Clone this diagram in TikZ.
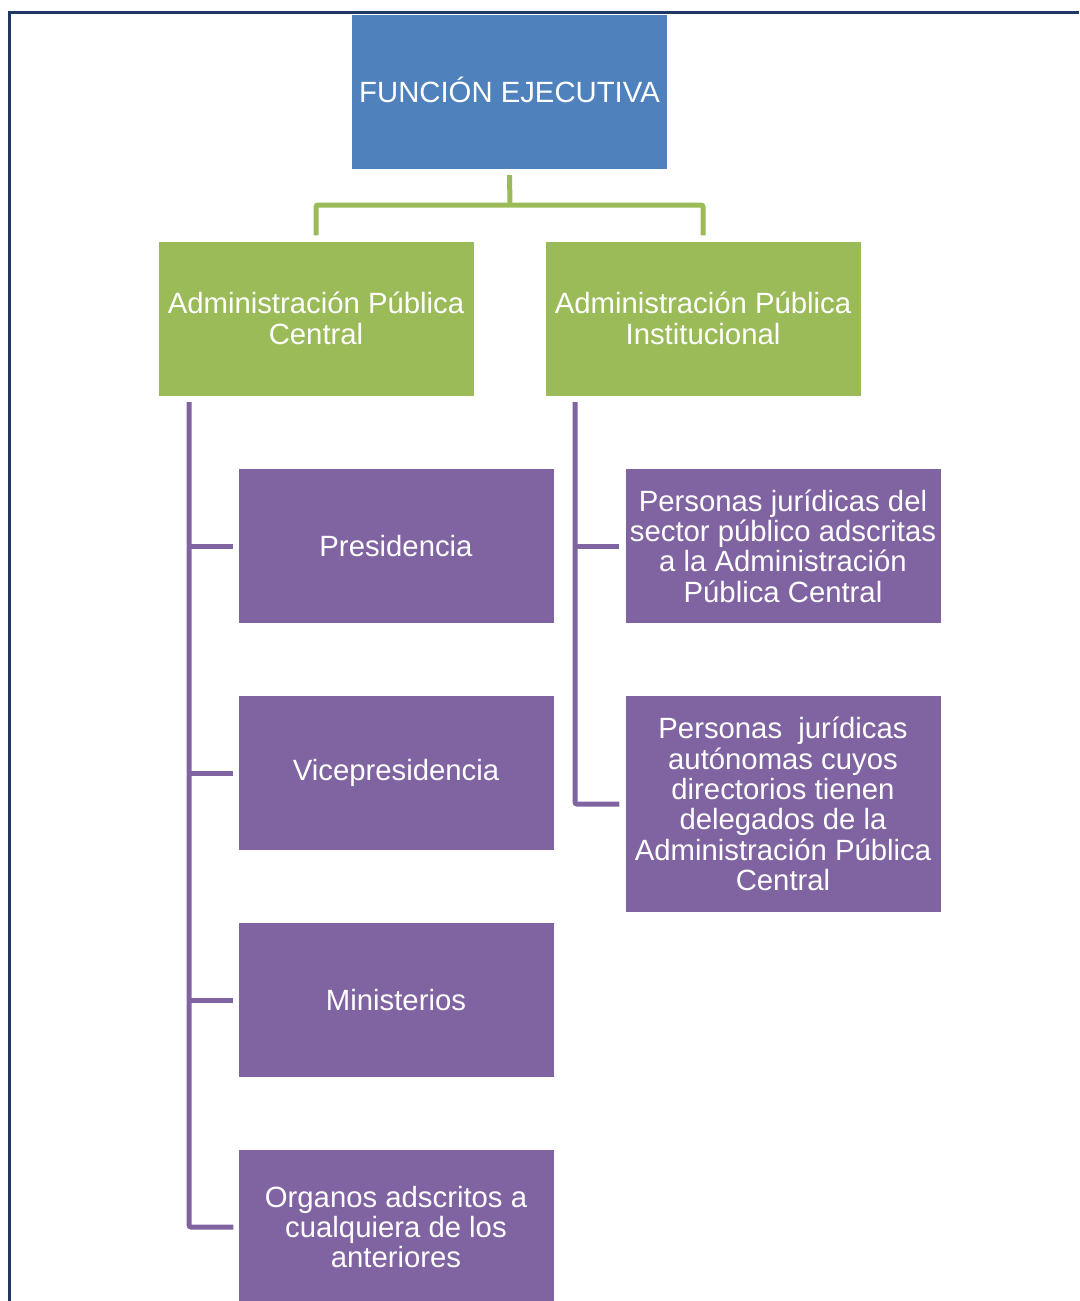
\documentclass[tikz,border=0pt]{standalone}
\usepackage{fontspec}
\setmainfont{Liberation Sans}
\begin{document}
\definecolor{execblue}{HTML}{4F81BD}
\definecolor{admgreen}{HTML}{9BBB59}
\definecolor{unitpurple}{HTML}{8064A2}
\definecolor{framenavy}{HTML}{1F3864}
\begin{tikzpicture}[x=1pt,y=-1pt,
  boxbase/.style={rectangle, inner sep=0pt, minimum width=315pt, minimum height=154pt,
    align=center, text=white, font=\fontsize{29.3}{30.4}\selectfont},
  topbox/.style={boxbase, fill=execblue},
  admbox/.style={boxbase, fill=admgreen},
  unitbox/.style={boxbase, fill=unitpurple},
  gline/.style={draw=admgreen, line width=5pt, rounded corners=2pt},
  pline/.style={draw=unitpurple, line width=5pt, rounded corners=2pt}]
\useasboundingbox (0,0) rectangle (1079,1301);
\fill[white] (0,0) rectangle (1079,1301);
% outer frame
\draw[framenavy, line width=3pt] (9.5,1301) -- (9.5,12.5) -- (1079,12.5);

% top level
\node[topbox] (fe) at (509.5,92) {};
\node[text=white, font=\fontsize{29.3}{30.4}\selectfont, inner sep=0pt] (fetext) at (509.5,90) {FUNCIÓN EJECUTIVA};

% administrations
\node[admbox] (apc) at (316,318.5) {Administración Pública\\Central};
\node[admbox] (api) at (703,318.5) {Administración Pública\\Institucional};

% central units
\node[unitbox] (pres) at (396,546) {Presidencia};
\node[unitbox] (vice) at (396,773) {Vicepresidencia};
\node[unitbox] (mins) at (396,1000) {Ministerios};
\node[unitbox] (orga) at (396,1227) {Organos adscritos a\\cualquiera de los\\anteriores};

% institutional units
\node[unitbox] (pj1) at (783,546) {Personas jurídicas del\\sector público adscritas\\a la Administración\\Pública Central};
\node[unitbox, minimum height=216pt] (pj2) at (783,804) {Personas~ jurídicas\\autónomas cuyos\\directorios tienen\\delegados de la\\Administración Pública\\Central};

% green connectors
\coordinate (fork) at (510,205);
\draw[gline] ([yshift=-6pt]fe.south) -- (fork);
\draw[gline] ([yshift=6pt]apc.north) |- (fork) -| ([yshift=6pt]api.north);

% purple connectors, central branch
\coordinate (ctop) at (189,402);
\draw[pline] (ctop) |- ([xshift=-5pt]orga.west);
\foreach \n in {pres,vice,mins}
  \draw[pline] (ctop |- \n.west) -- ([xshift=-5pt]\n.west);

% purple connectors, institutional branch
\coordinate (itop) at (575,402);
\draw[pline] (itop) |- ([xshift=-6pt]pj2.west);
\draw[pline] (itop |- pj1.west) -- ([xshift=-6pt]pj1.west);
\end{tikzpicture}
\end{document}
